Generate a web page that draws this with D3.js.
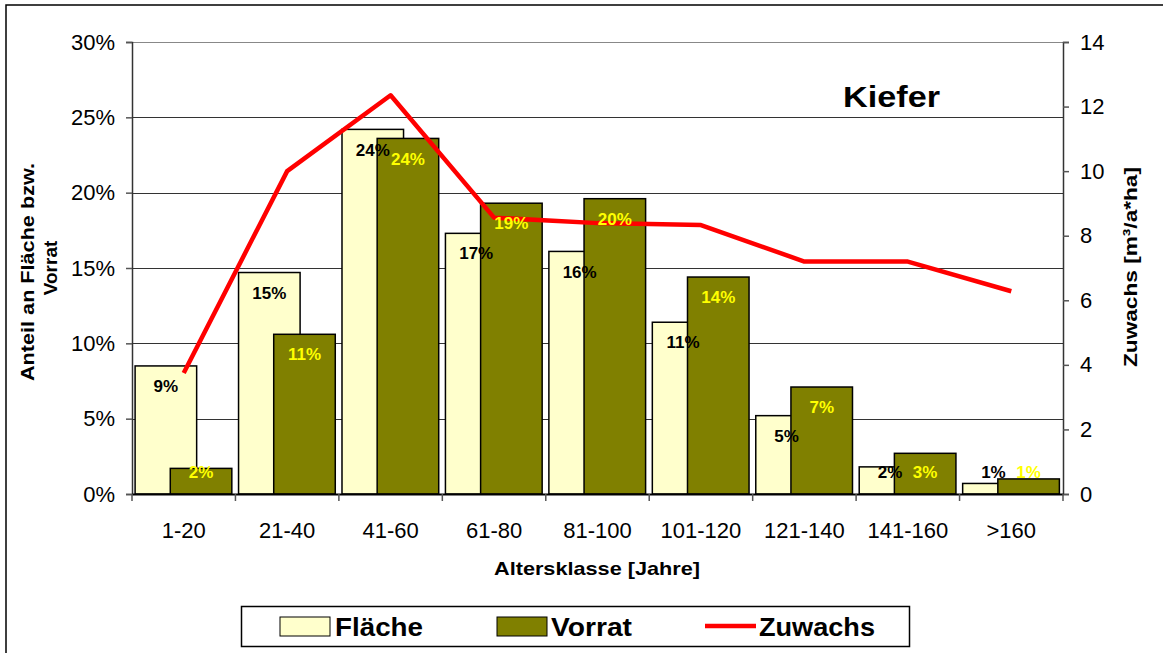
<!DOCTYPE html>
<html>
<head>
<meta charset="utf-8">
<script src="https://cdn.jsdelivr.net/npm/d3@7"></script>
<style>
  body { margin: 0; background: #fff; }
  svg { display: block; font-family: "Liberation Sans", Arial, sans-serif; }
  .tick text { font-size: 22px; fill: #000; }
  .bar-label { font-size: 17px; font-weight: bold; text-anchor: middle; }
  .title { font-size: 19px; font-weight: bold; text-anchor: middle; }
  .legend-text { font-size: 26px; font-weight: bold; }
</style>
</head>
<body>
<div id="chart"></div>
<script>
// data
const categories = ['1-20', '21-40', '41-60', '61-80', '81-100', '101-120', '121-140', '141-160', '>160'];
const flaeche = [0.085, 0.147, 0.242, 0.173, 0.161, 0.114, 0.052, 0.018, 0.007];
const vorrat = [0.017, 0.106, 0.236, 0.193, 0.196, 0.144, 0.071, 0.027, 0.010];
const zuwachs = [3.75, 10.0, 12.35, 8.56, 8.39, 8.33, 7.2, 7.2, 6.28];
const percentTicks = [0, 0.05, 0.10, 0.15, 0.20, 0.25, 0.30];
const zuwachsTicks = [0, 2, 4, 6, 8, 10, 12, 14];

const width = 1163;
const height = 653;
const plot = { left: 132, right: 1063, top: 42, bottom: 494 };

const svg = d3.select('#chart').append('svg')
  .attr('width', width)
  .attr('height', height);

/* outer frame: only top and left edges are visible */
svg.append('path')
  .attr('d', `M6,${height} V5 H${width}`)
  .attr('fill', 'none')
  .attr('stroke', '#000')
  .attr('stroke-width', 1.5);

/* scales */
const x = d3.scaleBand()
  .domain(categories)
  .range([plot.left, plot.right])
  .padding(0);
const step = x.step();

const y = d3.scaleLinear()
  .domain([0, 0.30])
  .range([plot.bottom, plot.top]);

const y2 = d3.scaleLinear()
  .domain([0, 14])
  .range([plot.bottom, plot.top]);

/* gridlines */
svg.append('g')
  .selectAll('line')
  .data(percentTicks.filter((d) => d > 0))
  .join('line')
  .attr('x1', plot.left)
  .attr('x2', plot.right)
  .attr('y1', (d) => Math.round(y(d)) + 0.5)
  .attr('y2', (d) => Math.round(y(d)) + 0.5)
  .attr('stroke', (d) => (d === 0.30 ? '#888' : '#333'))
  .attr('stroke-width', 1);

/* bars */
const barW = step * 0.595;
const bars = svg.append('g');

bars.selectAll('.flaeche')
  .data(flaeche)
  .join('rect')
  .attr('class', 'flaeche')
  .attr('x', (d, i) => x(categories[i]) + step * 0.03)
  .attr('y', (d) => y(d))
  .attr('width', barW)
  .attr('height', (d) => y(0) - y(d))
  .attr('fill', '#ffffcc')
  .attr('stroke', '#000')
  .attr('stroke-width', 1.5);

bars.selectAll('.vorrat')
  .data(vorrat)
  .join('rect')
  .attr('class', 'vorrat')
  .attr('x', (d, i) => x(categories[i]) + step * 0.37)
  .attr('y', (d) => y(d))
  .attr('width', barW)
  .attr('height', (d) => y(0) - y(d))
  .attr('fill', '#808000')
  .attr('stroke', '#000')
  .attr('stroke-width', 1.5);

/* axes */
const leftAxis = svg.append('g')
  .attr('transform', `translate(${plot.left},0)`)
  .call(d3.axisLeft(y)
    .tickValues(percentTicks)
    .tickFormat(d3.format('.0%'))
    .tickSize(6)
    .tickPadding(11));

const rightAxis = svg.append('g')
  .attr('transform', `translate(${plot.right},0)`)
  .call(d3.axisRight(y2)
    .tickValues(zuwachsTicks)
    .tickSize(6)
    .tickPadding(11));

const bottomAxis = svg.append('g')
  .attr('transform', `translate(0,${plot.bottom})`)
  .call(d3.axisBottom(x)
    .tickSize(0)
    .tickPadding(28));

[leftAxis, rightAxis, bottomAxis].forEach((g) => {
  g.selectAll('.domain').attr('stroke', '#333').attr('stroke-width', 1.5);
  g.selectAll('.tick line').attr('stroke', '#555').attr('stroke-width', 1.5);
  g.selectAll('.tick text').attr('font-family', null).attr('font-size', null);
});
bottomAxis.select('.domain').attr('stroke', '#000').attr('stroke-width', 2);

/* category boundary ticks on the x axis */
svg.append('g')
  .selectAll('line')
  .data(categories.map((c) => x(c)).concat([plot.right]))
  .join('line')
  .attr('x1', (d) => d)
  .attr('x2', (d) => d)
  .attr('y1', plot.bottom)
  .attr('y2', plot.bottom + 7)
  .attr('stroke', '#555')
  .attr('stroke-width', 1.5);

/* Zuwachs line */
const line = d3.line()
  .x((d, i) => x(categories[i]) + step / 2)
  .y((d) => y2(d));

svg.append('path')
  .datum(zuwachs)
  .attr('d', line)
  .attr('fill', 'none')
  .attr('stroke', '#ff0000')
  .attr('stroke-width', 4.5)
  .attr('stroke-linejoin', 'round');

/* bar labels: inside end, kept above the baseline */
const labelY = (d) => Math.min(y(d) + 20, y(0) - 22);

svg.append('g')
  .selectAll('text')
  .data(flaeche)
  .join('text')
  .attr('class', 'bar-label')
  .attr('x', (d, i) => x(categories[i]) + step * 0.03 + barW / 2)
  .attr('y', labelY)
  .attr('dy', '0.36em')
  .attr('fill', '#000')
  .text((d) => d3.format('.0%')(d));

svg.append('g')
  .selectAll('text')
  .data(vorrat)
  .join('text')
  .attr('class', 'bar-label')
  .attr('x', (d, i) => x(categories[i]) + step * 0.37 + barW / 2)
  .attr('y', labelY)
  .attr('dy', '0.36em')
  .attr('fill', '#ffff00')
  .text((d) => d3.format('.0%')(d));

/* titles */
svg.append('text')
  .attr('x', 843)
  .attr('y', 107)
  .attr('font-size', 30)
  .attr('font-weight', 'bold')
  .attr('textLength', 97)
  .attr('lengthAdjust', 'spacingAndGlyphs')
  .text('Kiefer');

svg.append('text')
  .attr('class', 'title')
  .attr('x', 597)
  .attr('y', 575)
  .attr('textLength', 206)
  .attr('lengthAdjust', 'spacingAndGlyphs')
  .text('Altersklasse [Jahre]');

svg.append('text')
  .attr('class', 'title')
  .attr('transform', 'translate(34,272) rotate(-90)')
  .attr('textLength', 218)
  .attr('lengthAdjust', 'spacingAndGlyphs')
  .text('Anteil an Fläche bzw.');

svg.append('text')
  .attr('class', 'title')
  .attr('transform', 'translate(57,268) rotate(-90)')
  .text('Vorrat');

svg.append('text')
  .attr('class', 'title')
  .attr('transform', 'translate(1137,267) rotate(-90)')
  .attr('textLength', 200)
  .attr('lengthAdjust', 'spacingAndGlyphs')
  .text('Zuwachs [m³/a*ha]');

/* legend */
const legend = svg.append('g');
legend.append('rect')
  .attr('x', 241.5)
  .attr('y', 606.5)
  .attr('width', 668)
  .attr('height', 40)
  .attr('fill', '#fff')
  .attr('stroke', '#000')
  .attr('stroke-width', 1.5);

legend.append('rect')
  .attr('x', 280).attr('y', 617).attr('width', 50).attr('height', 19)
  .attr('fill', '#ffffcc').attr('stroke', '#000').attr('stroke-width', 1);
legend.append('text')
  .attr('class', 'legend-text')
  .attr('x', 335).attr('y', 636)
  .attr('textLength', 88)
  .attr('lengthAdjust', 'spacingAndGlyphs')
  .text('Fläche');

legend.append('rect')
  .attr('x', 497).attr('y', 617).attr('width', 50).attr('height', 19)
  .attr('fill', '#808000').attr('stroke', '#000').attr('stroke-width', 1);
legend.append('text')
  .attr('class', 'legend-text')
  .attr('x', 551).attr('y', 636)
  .attr('textLength', 81)
  .attr('lengthAdjust', 'spacingAndGlyphs')
  .text('Vorrat');

legend.append('line')
  .attr('x1', 705).attr('x2', 756).attr('y1', 626).attr('y2', 626)
  .attr('stroke', '#ff0000').attr('stroke-width', 4.5);
legend.append('text')
  .attr('class', 'legend-text')
  .attr('x', 759).attr('y', 636)
  .attr('textLength', 116)
  .attr('lengthAdjust', 'spacingAndGlyphs')
  .text('Zuwachs');
</script>
</body>
</html>
